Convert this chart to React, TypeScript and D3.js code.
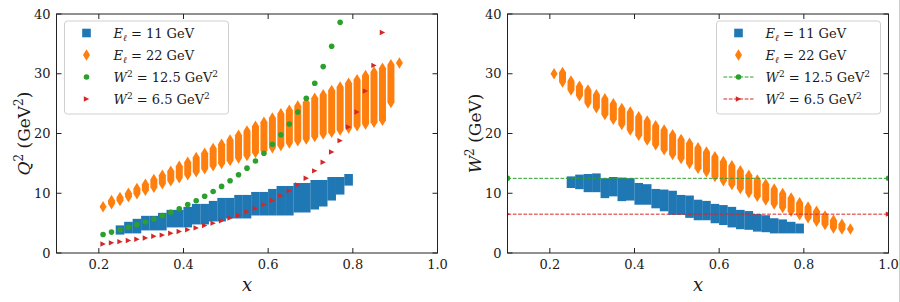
import React from 'react';
import * as d3 from 'd3';

// E_l = 22 GeV columns (x, Q^2 range, W^2 range)
const xOrange = [0.21, 0.23, 0.25, 0.27, 0.29, 0.31, 0.33, 0.35, 0.37, 0.39, 0.41, 0.43, 0.45, 0.47, 0.49, 0.51, 0.53, 0.55,
  0.57, 0.59, 0.61, 0.63, 0.65, 0.67, 0.69, 0.71, 0.73, 0.75, 0.77, 0.79, 0.81, 0.83, 0.85, 0.87, 0.89, 0.91];
const q2OrangeLo = [7.75, 8.25, 8.8, 9.4, 9.9, 10.5, 11.0, 11.6, 12.1, 12.6, 13.1, 13.6, 14.1, 14.6, 15.0, 15.5, 15.9, 16.3,
  16.8, 17.2, 17.6, 18.0, 18.4, 18.8, 19.1, 19.5, 19.9, 20.2, 20.6, 20.9, 21.3, 21.6, 21.9, 22.2, 25.2, 31.8];
const q2OrangeHi = [7.75, 8.8, 9.3, 10.0, 10.8, 11.5, 12.3, 13.0, 13.7, 14.5, 15.2, 16.0, 16.7, 17.5, 18.2, 18.9, 19.7, 20.4,
  21.2, 21.9, 22.6, 23.3, 23.9, 24.6, 25.2, 25.9, 26.5, 27.2, 27.8, 28.4, 29.0, 29.7, 30.3, 30.9, 31.5, 31.8];
const w2OrangeLo = [30.0, 28.6, 27.3, 26.3, 25.1, 24.3, 23.2, 22.4, 21.5, 20.6, 19.7, 18.9, 18.1, 17.3, 16.5, 15.8, 15.0, 14.2,
  13.6, 12.8, 12.1, 11.45, 10.8, 10.1, 9.5, 8.85, 8.2, 7.6, 7.0, 6.4, 5.9, 5.3, 4.75, 4.2, 4.0, 4.0];
const w2OrangeHi = [30.0, 30.2, 28.8, 27.9, 27.3, 26.5, 25.8, 25.0, 24.2, 23.6, 22.8, 22.1, 21.3, 20.6, 19.8, 19.0, 18.35, 17.6,
  16.9, 16.1, 15.3, 14.6, 13.75, 13.0, 12.2, 11.5, 10.7, 9.95, 9.2, 8.4, 7.7, 7.0, 6.2, 5.5, 4.8, 4.0];

// E_l = 11 GeV columns
const xBlue = [0.25, 0.27, 0.29, 0.31, 0.33, 0.35, 0.37, 0.39, 0.41, 0.43, 0.45, 0.47, 0.49, 0.51, 0.53, 0.55, 0.57, 0.59,
  0.61, 0.63, 0.65, 0.67, 0.69, 0.71, 0.73, 0.75, 0.77, 0.79];
const q2BlueLo = [3.8, 4.0, 4.0, 4.5, 4.5, 4.5, 5.0, 5.0, 5.0, 5.5, 5.5, 6.0, 6.0, 6.5, 6.5, 6.5, 7.0, 7.0,
  7.0, 7.0, 7.0, 7.5, 7.5, 8.0, 8.5, 9.5, 10.5, 12.0];
const q2BlueHi = [3.9, 4.5, 5.0, 5.5, 5.5, 6.0, 6.5, 6.5, 7.0, 7.5, 7.5, 8.0, 8.5, 8.5, 9.0, 9.0, 9.5, 9.5,
  10.0, 10.5, 10.5, 11.0, 11.0, 11.5, 11.5, 12.0, 12.0, 12.5];
const w2BlueLo = [11.6, 11.4, 10.9, 10.9, 9.9, 10.2, 9.4, 9.5, 8.8, 8.8, 8.2, 7.7, 7.1, 7.1, 6.6, 6.2, 6.2, 5.7,
  5.4, 5.0, 4.7, 4.6, 4.3, 4.2, 4.0, 4.0, 4.0, 4.0];
const w2BlueHi = [12.1, 12.4, 12.5, 12.6, 11.8, 12.0, 11.9, 11.8, 11.0, 10.8, 10.0, 9.9, 9.7, 9.0, 8.9, 8.2, 8.0, 7.5,
  7.3, 7.0, 6.5, 6.3, 5.8, 5.6, 5.1, 4.9, 4.5, 4.2];

// fixed-W^2 curves
const xW125 = [0.21, 0.23, 0.25, 0.27, 0.29, 0.31, 0.33, 0.35, 0.37, 0.39, 0.41, 0.43, 0.45, 0.47, 0.49, 0.51, 0.53, 0.55,
  0.57, 0.59, 0.61, 0.63, 0.65, 0.67, 0.69, 0.71, 0.73, 0.75, 0.77];
const q2W125 = [3.1, 3.5, 3.9, 4.3, 4.75, 5.2, 5.7, 6.25, 6.8, 7.4, 8.1, 8.75, 9.5, 10.3, 11.15, 12.1, 13.1, 14.2,
  15.4, 16.7, 18.2, 19.8, 21.6, 23.6, 25.9, 28.4, 31.2, 34.6, 38.6];
const xW65 = [0.21, 0.23, 0.25, 0.27, 0.29, 0.31, 0.33, 0.35, 0.37, 0.39, 0.41, 0.43, 0.45, 0.47, 0.49, 0.51, 0.53, 0.55,
  0.57, 0.59, 0.61, 0.63, 0.65, 0.67, 0.69, 0.71, 0.73, 0.75, 0.77, 0.79, 0.81, 0.83, 0.85, 0.87];
const q2W65 = [1.5, 1.7, 1.9, 2.1, 2.3, 2.5, 2.8, 3.0, 3.3, 3.6, 3.9, 4.2, 4.6, 5.0, 5.4, 5.85, 6.3, 6.9,
  7.45, 8.1, 8.8, 9.6, 10.4, 11.4, 12.5, 13.75, 15.2, 16.9, 18.8, 21.1, 23.6, 27.1, 31.4, 36.9];
const w2Levels = [12.5, 6.5];
const lineEndsX = [0.1, 1.0];

const xTicks = [0.2, 0.4, 0.6, 0.8, 1.0];
const yTicks = [0, 10, 20, 30, 40];

const BLUE = '#1f77b4';
const ORANGE = '#ff7f0e';
const GREEN = '#2ca02c';
const RED = '#d62728';
const FONT = "'DejaVu Serif', 'Liberation Serif', serif";
const INK = '#1a1a1a';

const TOP = 14;
const BOTTOM = 253;

const diamondCol = (x: number, y1: number, y2: number, w = 7, h = 11.5) =>
  `M${x},${y1 - h / 2}L${x + w / 2},${y1}L${x + w / 2},${y2}L${x},${y2 + h / 2}L${x - w / 2},${y2}L${x - w / 2},${y1}Z`;
const triRight = (x: number, y: number, s = 2.7) => `M${x + s},${y}L${x - s},${y - s}L${x - s},${y + s}Z`;

const EntryText = ({ x, y, kind, label }: { x: number; y: number; kind: 'E' | 'W'; label: string }) => (
  <text x={x} y={y} fontSize={13} fontFamily={FONT} fill={INK}>
    {kind === 'E' ? (
      <>
        <tspan fontStyle="italic">E</tspan>
        <tspan fontSize={9} fontStyle="italic" dy={3}>ℓ</tspan>
        <tspan dy={-3}>{` = ${label} GeV`}</tspan>
      </>
    ) : (
      <>
        <tspan fontStyle="italic">W</tspan>
        <tspan fontSize={9} dy={-5}>2</tspan>
        <tspan dy={5}>{` = ${label} GeV`}</tspan>
        <tspan fontSize={9} dy={-5}>2</tspan>
      </>
    )}
  </text>
);

function Panel({ left, right, mode }: { left: number; right: number; mode: 'q2' | 'w2' }) {
  const x = d3.scaleLinear().domain([0.1, 1.0]).range([left, right]);
  const y = d3.scaleLinear().domain([0, 40]).range([BOTTOM, TOP]);
  const clipId = `clip-${mode}`;
  const oLo = mode === 'q2' ? q2OrangeLo : w2OrangeLo;
  const oHi = mode === 'q2' ? q2OrangeHi : w2OrangeHi;
  const bLo = mode === 'q2' ? q2BlueLo : w2BlueLo;
  const bHi = mode === 'q2' ? q2BlueHi : w2BlueHi;
  const sq = 8.6;
  const cx = (left + right) / 2;
  const cy = (TOP + BOTTOM) / 2;

  // legend geometry
  const lgX = mode === 'q2' ? left + 8 : right - 172;
  const lgY = 21;
  const mX = lgX + 22;
  const tX = lgX + 49;
  const rows = [33, 55, 77, 99];

  return (
    <g>
      <defs>
        <clipPath id={clipId}>
          <rect x={left} y={TOP} width={right - left} height={BOTTOM - TOP} />
        </clipPath>
      </defs>
      <g clipPath={`url(#${clipId})`}>
        {xBlue.map((v, i) => (
          <rect key={`b${i}`} x={x(v) - sq / 2} y={y(bHi[i]) - sq / 2} width={sq}
            height={y(bLo[i]) - y(bHi[i]) + sq} fill={BLUE} />
        ))}
        {xOrange.map((v, i) => (
          <path key={`o${i}`} d={diamondCol(x(v), y(oHi[i]), y(oLo[i]))} fill={ORANGE} />
        ))}
        {mode === 'q2' ? (
          <>
            {xW125.map((v, i) => (
              <circle key={`g${i}`} cx={x(v)} cy={y(q2W125[i])} r={2.8} fill={GREEN} />
            ))}
            {xW65.map((v, i) => (
              <path key={`r${i}`} d={triRight(x(v), y(q2W65[i]))} fill={RED} />
            ))}
          </>
        ) : (
          <>
            {w2Levels.map((lv, k) => (
              <g key={`l${k}`}>
                <line x1={x(lineEndsX[0])} x2={x(lineEndsX[1])} y1={y(lv)} y2={y(lv)}
                  stroke={k === 0 ? GREEN : RED} strokeWidth={1} strokeDasharray="3.7,1.6" />
                {lineEndsX.map((e, j) => (k === 0
                  ? <circle key={j} cx={x(e)} cy={y(lv)} r={2.8} fill={GREEN} />
                  : <path key={j} d={triRight(x(e), y(lv))} fill={RED} />))}
              </g>
            ))}
          </>
        )}
      </g>

      {/* frame and ticks */}
      <rect x={left} y={TOP} width={right - left} height={BOTTOM - TOP} fill="none" stroke="#222" strokeWidth={1} />
      {xTicks.map((t) => (
        <g key={`xt${t}`} stroke="#222">
          <line x1={x(t)} x2={x(t)} y1={BOTTOM} y2={BOTTOM - 5} />
          <line x1={x(t)} x2={x(t)} y1={TOP} y2={TOP + 5} />
        </g>
      ))}
      {yTicks.map((t) => (
        <g key={`yt${t}`} stroke="#222">
          <line x1={left} x2={left + 5} y1={y(t)} y2={y(t)} />
          <line x1={right} x2={right - 5} y1={y(t)} y2={y(t)} />
        </g>
      ))}
      {xTicks.map((t) => (
        <text key={`xl${t}`} x={x(t)} y={BOTTOM + 16} textAnchor="middle" fontSize={13} fontFamily={FONT} fill={INK}>
          {d3.format('.1f')(t)}
        </text>
      ))}
      {yTicks.map((t) => (
        <text key={`yl${t}`} x={left - 6} y={y(t)} dy="0.36em" textAnchor="end" fontSize={13} fontFamily={FONT} fill={INK}>
          {t}
        </text>
      ))}
      <text x={cx} y={291} textAnchor="middle" fontSize={18} fontStyle="italic" fontFamily={FONT} fill={INK}>x</text>
      <text transform={`translate(${left - 27},${cy}) rotate(-90)`} textAnchor="middle" fontSize={17} fontFamily={FONT} fill={INK}>
        {mode === 'q2' ? (
          <>
            <tspan fontStyle="italic">Q</tspan>
            <tspan fontSize={12} dy={-7}>2</tspan>
            <tspan dy={7}> (GeV</tspan>
            <tspan fontSize={12} dy={-7}>2</tspan>
            <tspan dy={7}>)</tspan>
          </>
        ) : (
          <>
            <tspan fontStyle="italic">W</tspan>
            <tspan fontSize={12} dy={-7}>2</tspan>
            <tspan dy={7}> (GeV)</tspan>
          </>
        )}
      </text>

      {/* legend */}
      <rect x={lgX} y={lgY} width={164} height={93} rx={3} fill="#fff" fillOpacity={0.8} stroke="#d0d0d0" strokeWidth={1} />
      <rect x={mX - sq / 2} y={rows[0] - sq / 2} width={sq} height={sq} fill={BLUE} />
      <path d={diamondCol(mX, rows[1], rows[1])} fill={ORANGE} />
      {mode === 'w2' && (
        <>
          <line x1={mX - 15} x2={mX + 15} y1={rows[2]} y2={rows[2]} stroke={GREEN} strokeDasharray="3.7,1.6" />
          <line x1={mX - 15} x2={mX + 15} y1={rows[3]} y2={rows[3]} stroke={RED} strokeDasharray="3.7,1.6" />
        </>
      )}
      <circle cx={mX} cy={rows[2]} r={2.8} fill={GREEN} />
      <path d={triRight(mX, rows[3])} fill={RED} />
      <EntryText x={tX} y={rows[0] + 5} kind="E" label="11" />
      <EntryText x={tX} y={rows[1] + 5} kind="E" label="22" />
      <EntryText x={tX} y={rows[2] + 5} kind="W" label="12.5" />
      <EntryText x={tX} y={rows[3] + 5} kind="W" label="6.5" />
    </g>
  );
}

export default function App() {
  return (
    <svg width={900} height={302} style={{ position: 'absolute', left: 0, top: 0, background: '#fff' }}>
      <rect width={900} height={302} fill="#fff" />
      <Panel left={56.5} right={437.5} mode="q2" />
      <Panel left={507.5} right={888.5} mode="w2" />
      <line x1={899.5} x2={899.5} y1={0} y2={302} stroke="#ccc" />
    </svg>
  );
}
